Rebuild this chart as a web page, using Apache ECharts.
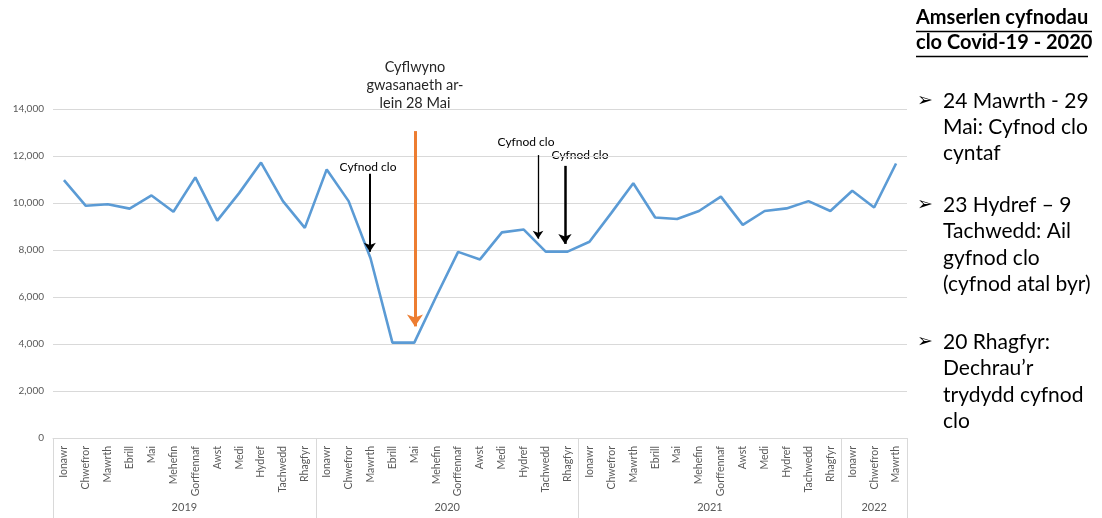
<!DOCTYPE html>
<html lang="cy">
<head>
    <meta charset="UTF-8"/>
    <title>Cyfnodau clo</title>
    <script src="https://cdn.jsdelivr.net/npm/echarts@6/dist/echarts.min.js"></script>
    <style>
        html, body { margin: 0; padding: 0; background: #fff; }
        #chart { width: 1102px; height: 518px; }
    </style>
</head>
<body>
<div id="chart"></div>
<script>
    // data
    const months = ['Ionawr', 'Chwefror', 'Mawrth', 'Ebrill', 'Mai', 'Mehefin', 'Gorffennaf', 'Awst', 'Medi', 'Hydref', 'Tachwedd', 'Rhagfyr'];
    const years = ['2019', '2020', '2021', '2022'];
    const monthsPerYear = [12, 12, 12, 3];
    const values2019 = [10970, 9880, 9950, 9760, 10320, 9630, 11090, 9250, 10420, 11720, 10080, 8940];
    const values2020 = [11430, 10080, 7650, 4060, 4060, 6020, 7920, 7600, 8750, 8870, 7930, 7930];
    const values2021 = [8350, 9580, 10840, 9380, 9320, 9660, 10270, 9070, 9660, 9770, 10080, 9660];
    const values2022 = [10520, 9810, 11680];

    const categories = [];
    years.forEach((y, i) => {
        for (let m = 0; m < monthsPerYear[i]; m++) categories.push(months[m]);
    });
    const values = values2019.concat(values2020, values2021, values2022);

    // year label positions / separators on a hidden value axis
    let start = -0.5;
    const yearMid = [], yearEdges = [-0.5];
    monthsPerYear.forEach(n => {
        yearMid.push(start + n / 2);
        start += n;
        yearEdges.push(start);
    });

    const font = 'Lato, "Open Sans", sans-serif';
    const grey = '#595959';

    let myChart = echarts.init(document.getElementById('chart'));
    let option = {
        animation: false,
        grid: {left: 53, right: 195, top: 109, bottom: 80, containLabel: false},
        xAxis: [
            {
                type: 'category',
                data: categories,
                boundaryGap: true,
                axisLine: {lineStyle: {color: '#d9d9d9'}},
                axisTick: {show: false},
                axisLabel: {
                    interval: 0, rotate: 90, margin: 8,
                    color: grey, fontFamily: font, fontSize: 10.5
                }
            },
            {
                type: 'value',
                min: -0.5,
                max: 38.5,
                position: 'bottom',
                splitLine: {show: false},
                axisLine: {show: false},
                axisTick: {
                    show: true, customValues: yearEdges, length: 80,
                    lineStyle: {color: '#d9d9d9'}
                },
                axisLabel: {
                    customValues: yearMid,
                    margin: 64,
                    color: grey, fontFamily: font, fontSize: 11,
                    formatter: v => years[yearMid.indexOf(v)]
                }
            }
        ],
        yAxis: {
            type: 'value',
            min: 0,
            max: 14000,
            interval: 2000,
            axisLine: {show: false},
            axisTick: {show: false},
            splitLine: {lineStyle: {color: '#d9d9d9', width: 1}},
            axisLabel: {
                margin: 9, color: grey, fontFamily: font, fontSize: 10,
                formatter: v => v.toLocaleString('en-GB')
            }
        },
        series: [
            {
                type: 'line',
                data: values,
                showSymbol: false,
                symbol: 'none',
                lineStyle: {color: '#5B9BD5', width: 2.6},
                z: 3
            },
            {
                // arrows, drawn on the value x axis
                type: 'line',
                xAxisIndex: 1,
                data: [],
                silent: true,
                markLine: {
                    silent: true,
                    symbol: ['none', 'arrow'],
                    symbolSize: 9,
                    label: {show: false},
                    data: [
                        [{coord: [16.03, 13060], lineStyle: {color: '#ED7D31', width: 3, type: 'solid'}},
                         {coord: [16.03, 4750], symbolSize: 12}],
                        [{coord: [13.97, 11250], lineStyle: {color: '#000', width: 2, type: 'solid'}},
                         {coord: [13.97, 7930]}],
                        [{coord: [21.65, 12040], lineStyle: {color: '#000', width: 1.3, type: 'solid'}},
                         {coord: [21.65, 8480], symbolSize: 8}],
                        [{coord: [22.88, 11580], lineStyle: {color: '#000', width: 2.5, type: 'solid'}},
                         {coord: [22.88, 8260], symbolSize: 10}]
                    ]
                },
                z: 4
            }
        ],
        graphic: [
            {
                type: 'text', z: 10,
                style: {
                    x: 415, y: 58, text: 'Cyflwyno\ngwasanaeth ar-\nlein 28 Mai',
                    align: 'center', verticalAlign: 'top', lineHeight: 18,
                    font: '14.5px ' + font, fill: '#262626'
                }
            },
            {
                type: 'text', z: 10,
                style: {x: 368, y: 167, text: 'Cyfnod clo', align: 'center', verticalAlign: 'middle',
                    font: '12px ' + font, fill: '#000'}
            },
            {
                type: 'text', z: 10,
                style: {x: 526, y: 142, text: 'Cyfnod clo', align: 'center', verticalAlign: 'middle',
                    font: '12px ' + font, fill: '#000'}
            },
            {
                type: 'text', z: -1,
                style: {x: 580, y: 155, text: 'Cyfnod clo', align: 'center', verticalAlign: 'middle',
                    font: '12px ' + font, fill: '#000'}
            },
            // right panel
            {
                type: 'text', z: 10,
                style: {x: 916, y: 5, text: 'Amserlen cyfnodau\nclo Covid-19 - 2020', lineHeight: 25,
                    verticalAlign: 'top', font: 'bold 20px ' + font, fill: '#000'}
            },
            {type: 'line', z: 10, shape: {x1: 916, y1: 31.5, x2: 1092, y2: 31.5}, style: {stroke: '#000', lineWidth: 1.5}},
            {type: 'line', z: 10, shape: {x1: 916, y1: 56.5, x2: 1088, y2: 56.5}, style: {stroke: '#000', lineWidth: 1.5}},
            {
                type: 'text', z: 10,
                style: {x: 917, y: 88, text: '➢', lineHeight: 26, verticalAlign: 'top',
                    font: '19px "DejaVu Sans", sans-serif', fill: '#000'}
            },
            {
                type: 'text', z: 10,
                style: {x: 943, y: 88, text: '24 Mawrth - 29\nMai: Cyfnod clo\ncyntaf', lineHeight: 26,
                    verticalAlign: 'top', font: '21px ' + font, fill: '#000'}
            },
            {
                type: 'text', z: 10,
                style: {x: 917, y: 192, text: '➢', lineHeight: 26, verticalAlign: 'top',
                    font: '19px "DejaVu Sans", sans-serif', fill: '#000'}
            },
            {
                type: 'text', z: 10,
                style: {x: 943, y: 192, text: '23 Hydref – 9\nTachwedd: Ail\ngyfnod clo\n(cyfnod atal byr)', lineHeight: 26.3,
                    verticalAlign: 'top', font: '21px ' + font, fill: '#000'}
            },
            {
                type: 'text', z: 10,
                style: {x: 917, y: 329, text: '➢', lineHeight: 26, verticalAlign: 'top',
                    font: '19px "DejaVu Sans", sans-serif', fill: '#000'}
            },
            {
                type: 'text', z: 10,
                style: {x: 943, y: 329, text: '20 Rhagfyr:\nDechrau’r\ntrydydd cyfnod\nclo', lineHeight: 26.3,
                    verticalAlign: 'top', font: '21px ' + font, fill: '#000'}
            }
        ]
    };
    myChart.setOption(option);
</script>
</body>
</html>
